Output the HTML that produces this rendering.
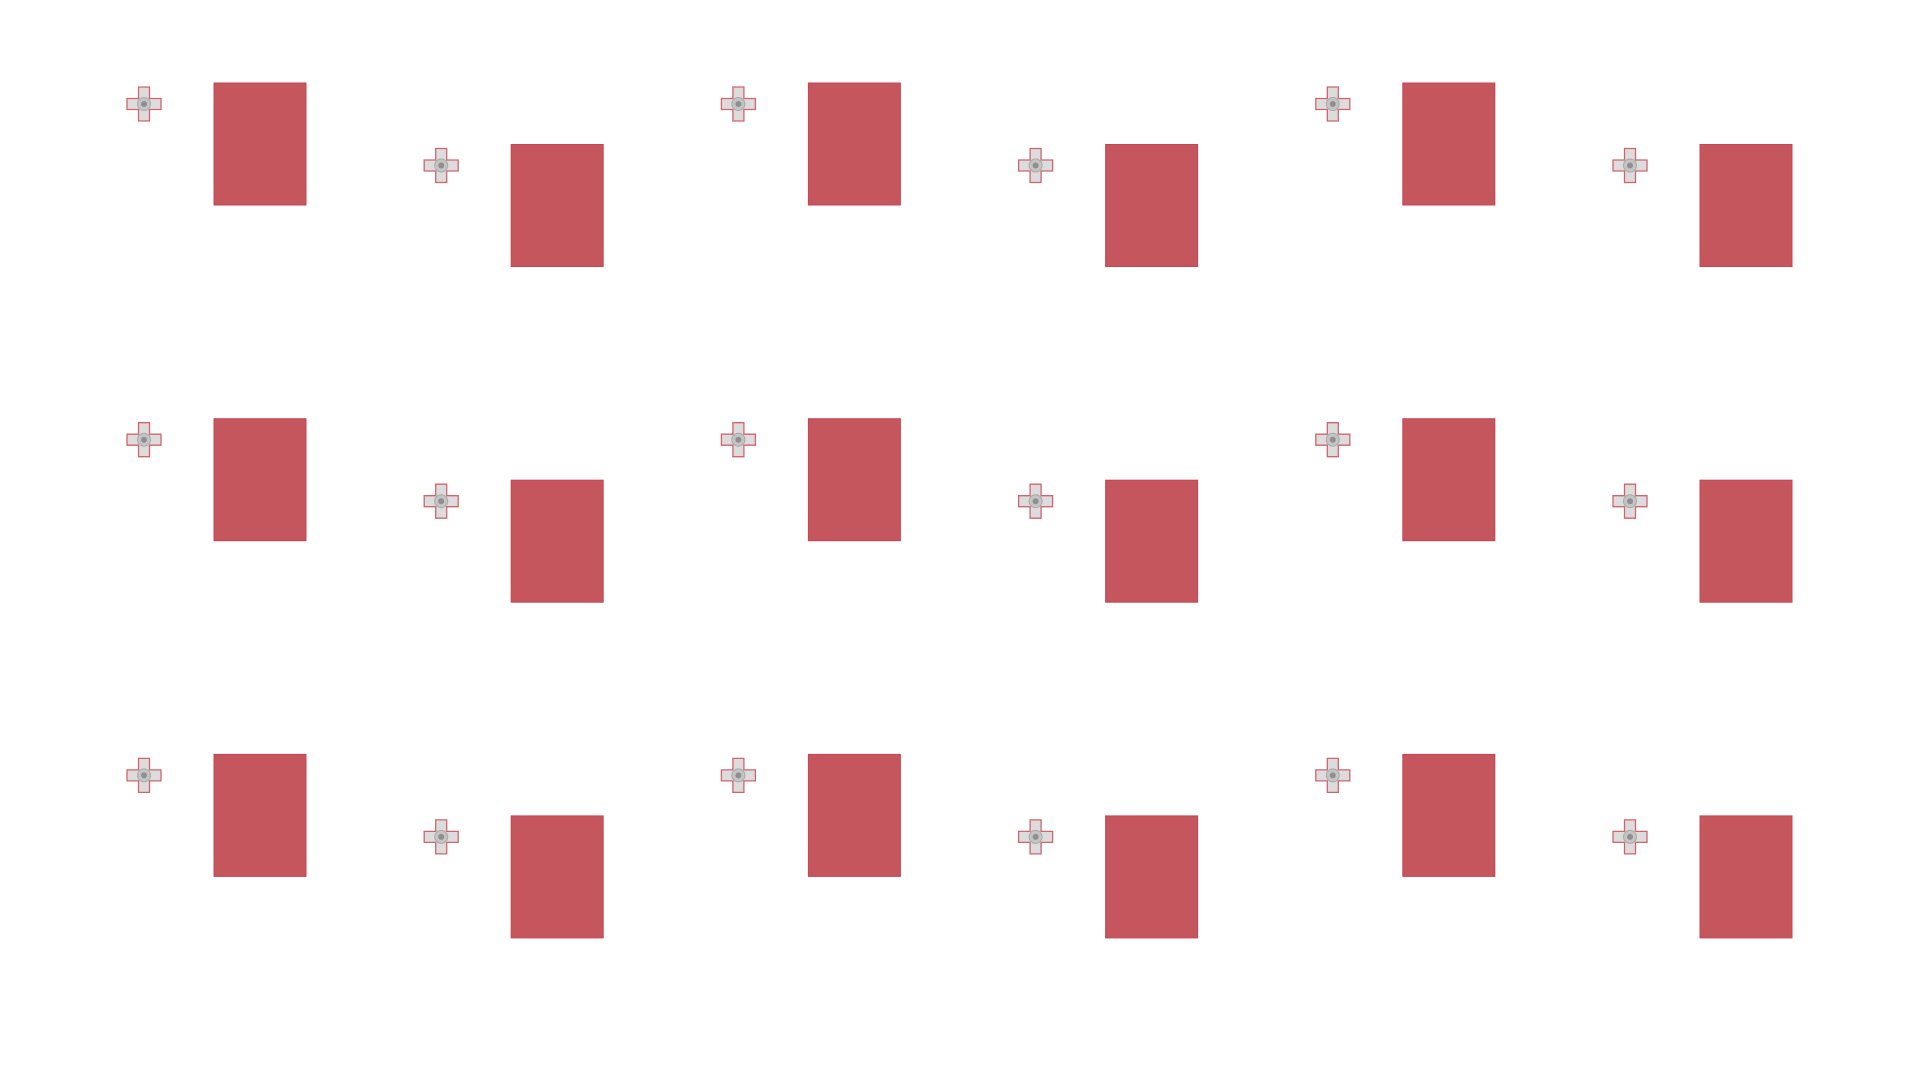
<!DOCTYPE html>
<html><head><meta charset="utf-8">
<style>html,body{margin:0;padding:0;background:#fff;}svg{display:block;}</style>
</head><body>
<svg id="chart" width="1920" height="1080" viewBox="0 0 1920 1080" xmlns="http://www.w3.org/2000/svg">
<rect x="0" y="0" width="1920" height="1080" fill="#ffffff"/>
</svg>
<script>
const rows = [0, 1, 2];
const cols = [0, 1, 2, 3, 4, 5];
const colOffsets = [0, 1, 0, 1, 0, 1];
const svg = document.getElementById('chart');
const NS = 'http://www.w3.org/2000/svg';
function xPos(c){ return 214 + c * 297.2; }
function yPos(r, c){ return 83 + r * 335.7 + colOffsets[c] * 61.5; }
rows.forEach(r => {
  cols.forEach(c => {
    const x = xPos(c), y = yPos(r, c);
    const g = document.createElementNS(NS, 'g');
    
    
    const rect = document.createElementNS(NS, 'rect');
    
    
    rect.setAttribute('x', x); rect.setAttribute('y', y);
    rect.setAttribute('width', 92); rect.setAttribute('height', 122);
    rect.setAttribute('fill', '#c5565e');
    rect.setAttribute('stroke', '#c9454f'); rect.setAttribute('stroke-width', '1');
    g.appendChild(rect);
    const cx = x - 70, cy = y + 21, h = 17, a = 5.5;
    const cross = document.createElementNS(NS, 'path');
    
    
    cross.setAttribute('d', `M${cx-a},${cy-h}H${cx+a}V${cy-a}H${cx+h}V${cy+a}H${cx+a}V${cy+h}H${cx-a}V${cy+a}H${cx-h}V${cy-a}H${cx-a}Z`);
    cross.setAttribute('fill', '#dcdcdc');
    cross.setAttribute('stroke', '#d2646c'); cross.setAttribute('stroke-width', '1.3');
    g.appendChild(cross);
    const circ = document.createElementNS(NS, 'circle');
    
    
    circ.setAttribute('cx', cx); circ.setAttribute('cy', cy); circ.setAttribute('r', 6.5);
    circ.setAttribute('fill', '#c4c4c4'); circ.setAttribute('stroke', '#a9a9a9'); circ.setAttribute('stroke-width', '1');
    g.appendChild(circ);
    const dot = document.createElementNS(NS, 'circle');
    
    
    dot.setAttribute('cx', cx); dot.setAttribute('cy', cy); dot.setAttribute('r', 3);
    dot.setAttribute('fill', '#8f8f8f');
    g.appendChild(dot);
    svg.appendChild(g);
  });
});
</script>
</body></html>
